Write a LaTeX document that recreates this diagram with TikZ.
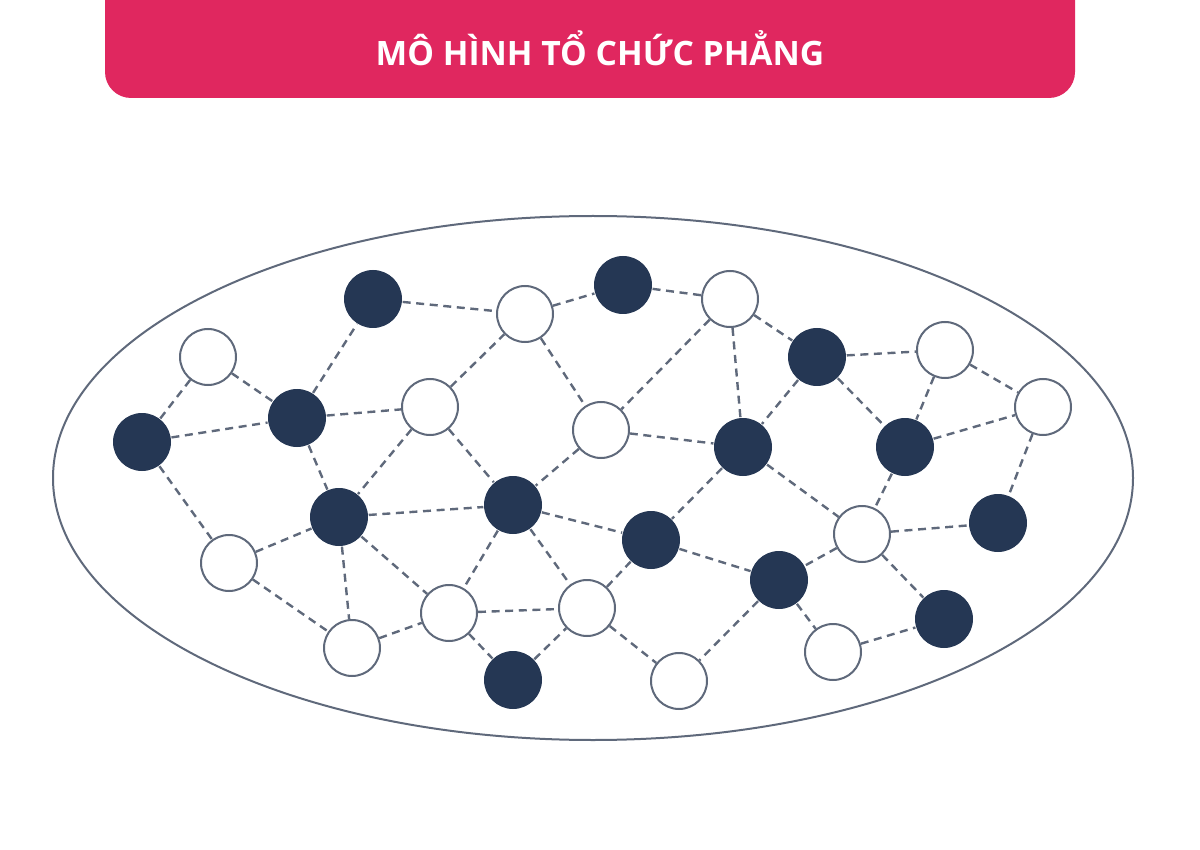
\documentclass[tikz,border=0pt]{standalone}
\usepackage{fontspec}
\setmainfont{Open Sans}
\usetikzlibrary{positioning}
\definecolor{navy}{HTML}{253754}
\definecolor{edgegray}{HTML}{5F697B}
\definecolor{headpink}{HTML}{E0275F}

\begin{document}
\begin{tikzpicture}[x=0.5pt, y=-0.5pt, thick,
    dark/.style = {circle, fill=navy, minimum size=29pt, inner sep=0pt},
    light/.style = {circle, draw=edgegray, line width=1pt, fill=white, minimum size=28pt, inner sep=0pt},
    link/.style = {draw=edgegray, line width=1.2pt, dash pattern=on 4pt off 2.8pt}]
            \useasboundingbox (0,0) rectangle (1200,850);
            \fill[headpink, rounded corners=13pt] (105,-40) rectangle (1075,98);
            \node[text=white, font=\bfseries\fontsize{16.8}{20}\selectfont] (title) at (600,48) {MÔ HÌNH TỔ CHỨC PHẲNG};
            \draw[edgegray, line width=1pt] (593,478) ellipse [x radius=540, y radius=262];
            \node[dark] (d1) at (373,299) {};
            \node[dark] (d2) at (623,285) {};
            \node[dark] (d3) at (817,357) {};
            \node[dark] (d4) at (297,418) {};
            \node[dark] (d5) at (142,442) {};
            \node[dark] (d6) at (743,447) {};
            \node[dark] (d7) at (905,447) {};
            \node[dark] (d8) at (513,505) {};
            \node[dark] (d9) at (339,517) {};
            \node[dark] (d10) at (651,540) {};
            \node[dark] (d11) at (998,523) {};
            \node[dark] (d12) at (779,580) {};
            \node[dark] (d13) at (944,619) {};
            \node[dark] (d14) at (513,680) {};
            \node[light] (w1) at (208,357) {};
            \node[light] (w2) at (525,314) {};
            \node[light] (w3) at (730,299) {};
            \node[light] (w4) at (945,350) {};
            \node[light] (w5) at (430,407) {};
            \node[light] (w6) at (601,430) {};
            \node[light] (w7) at (1043,407) {};
            \node[light] (w8) at (862,534) {};
            \node[light] (w9) at (229,563) {};
            \node[light] (w10) at (449,613) {};
            \node[light] (w11) at (587,608) {};
            \node[light] (w12) at (352,648) {};
            \node[light] (w13) at (833,652) {};
            \node[light] (w14) at (679,681) {};
            \draw[link] (d5) -- (w1) (d5) -- (d4) (d5) -- (w9) (w1) -- (d4) (d4) -- (d1) (d4) -- (w5) (d4) -- (d9);
            \draw[link] (d1) -- (w2) (w5) -- (w2) (w5) -- (d9) (w5) -- (d8) (d9) -- (d8) (w2) -- (d2) (d2) -- (w3);
            \draw[link] (w3) -- (d3) (w3) -- (w6) (w3) -- (d6) (w2) -- (w6) (w6) -- (d6) (w6) -- (d8) (d3) -- (d6);
            \draw[link] (d6) -- (d10) (d6) -- (w8) (d8) -- (d10) (d8) -- (w10) (d8) -- (w11) (d3) -- (w4) (d3) -- (d7);
            \draw[link] (w4) -- (w7) (w4) -- (d7) (d7) -- (w7) (w7) -- (d11) (d7) -- (w8) (w8) -- (d11) (w8) -- (d12) (w8) -- (d13);
            \draw[link] (w9) -- (d9) (w9) -- (w12) (d9) -- (w12) (d9) -- (w10) (w12) -- (w10) (w10) -- (w11) (w10) -- (d14);
            \draw[link] (d14) -- (w11) (w11) -- (d10) (w11) -- (w14) (d10) -- (d12) (d12) -- (w14) (d12) -- (w13) (w13) -- (d13);
        \end{tikzpicture}
\end{document}
